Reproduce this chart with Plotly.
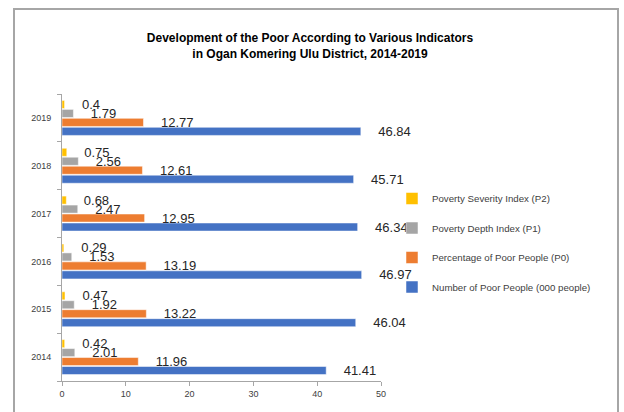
import plotly.graph_objects as go

years = ["2014", "2015", "2016", "2017", "2018", "2019"]
number_poor = [41.41, 46.04, 46.97, 46.34, 45.71, 46.84]
pct_poor = [11.96, 13.22, 13.19, 12.95, 12.61, 12.77]
depth_p1 = [2.01, 1.92, 1.53, 2.47, 2.56, 1.79]
severity_p2 = [0.42, 0.47, 0.29, 0.68, 0.75, 0.4]

series = [
    ("Number of Poor People (000 people)", number_poor, "#4472C4", 4),
    ("Percentage of Poor People (P0)", pct_poor, "#ED7D31", 3),
    ("Poverty Depth Index (P1)", depth_p1, "#A5A5A5", 2),
    ("Poverty Severity Index (P2)", severity_p2, "#FFC000", 1),
]

PAD = "\u00a0" * 4
fig = go.Figure()
for name, vals, color, rank in series:
    fig.add_trace(go.Bar(
        y=years, x=vals, orientation="h", name=name,
        legendgroup=name, legendrank=rank,
        marker=dict(color=color, line=dict(color="white", width=0.5)),
        text=[PAD + str(v) for v in vals],
        textposition="outside",
        constraintext="none",
        cliponaxis=False,
        textfont=dict(family="Liberation Sans, Arial, sans-serif", size=13, color="#262626"),
    ))

L, R, T, B = 62, 243, 94, 31
W, H = 624, 412
pw, ph = W - L - R, H - T - B

def px_x(p):
    return (p - L) / pw

def px_y(p):
    return (H - B - p) / ph

fig.update_layout(
    width=W, height=H,
    margin=dict(l=L, r=R, t=T, b=B, autoexpand=False),
    paper_bgcolor="white", plot_bgcolor="white",
    barmode="group", bargap=0.25, bargroupgap=0.1,
    title=dict(
        text="Development of the Poor According to Various Indicators<br>in Ogan Komering Ulu District, 2014-2019",
        x=310 / W, xanchor="center", xref="container",
        y=1 - 42 / H, yanchor="top", yref="container",
        font=dict(family="Liberation Sans Narrow, Arial Narrow, Liberation Sans, sans-serif", size=12, color="#000000", weight="bold"),
    ),
    font=dict(family="Liberation Sans, Arial, sans-serif", size=9, color="#404040"),
    legend=dict(
        x=px_x(392), y=px_y(184), xanchor="left", yanchor="top",
        traceorder="grouped", tracegroupgap=10.5,
        font=dict(size=9.7, color="#404040"),
        bgcolor="rgba(0,0,0,0)",
    ),
    xaxis=dict(
        range=[0, 50], dtick=10, showgrid=False, zeroline=False, automargin=False,
        showline=True, linecolor="#A6A6A6", linewidth=1,
        ticks="outside", ticklen=4, tickcolor="#A6A6A6",
        tickfont=dict(size=9, color="#404040"),
    ),
    yaxis=dict(
        type="category", categoryorder="array", categoryarray=years,
        showgrid=False, zeroline=False, automargin=False,
        showline=True, linecolor="#A6A6A6", linewidth=1,
        ticks="outside", ticklen=4, tickcolor="#A6A6A6", tickson="boundaries",
        tickfont=dict(size=9, color="#404040"),
        ticklabelstandoff=8,
    ),
    shapes=[dict(
        type="rect", xref="paper", yref="paper",
        x0=px_x(14), x1=px_x(618), y0=px_y(430), y1=px_y(9),
        line=dict(color="#A6A6A6", width=2), fillcolor="rgba(0,0,0,0)", layer="below",
    )],
)

fig.write_html("out.html", config={"displayModeBar": False},
               post_script="document.body.style.margin='0';")
